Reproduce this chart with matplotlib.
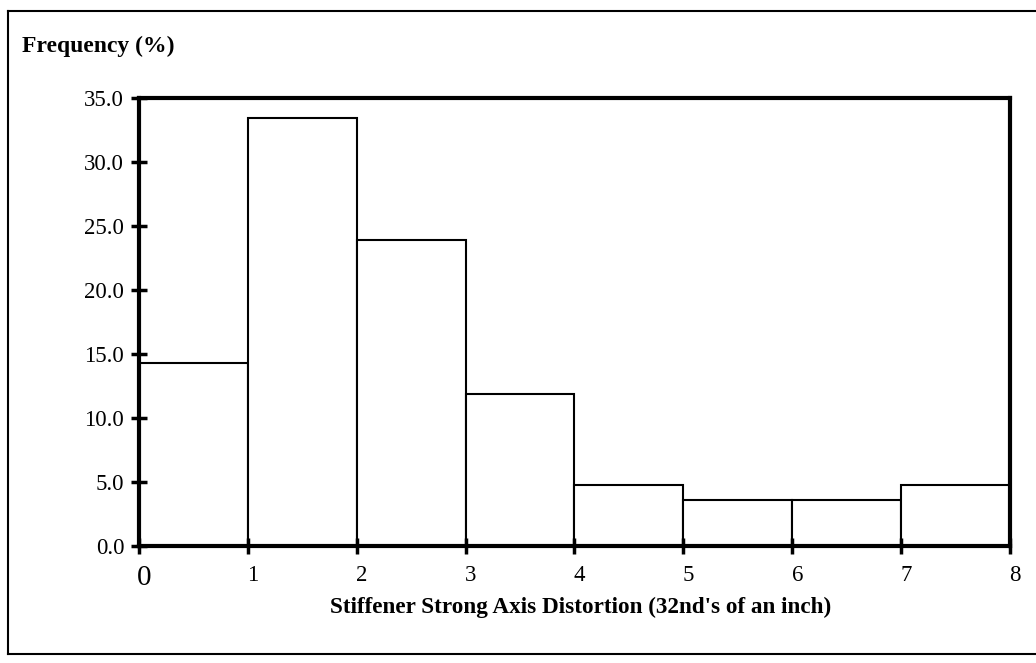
import matplotlib.pyplot as plt
import matplotlib.transforms as mtransforms
from matplotlib.lines import Line2D

# stiffener strong axis distortion histogram (32nd's of an inch)
binEdges = [0, 1, 2, 3, 4, 5, 6, 7, 8]
frequency = [14.3, 33.4, 23.9, 11.9, 4.8, 3.6, 3.6, 4.8]
yTicks = [0, 5, 10, 15, 20, 25, 30, 35]
yTickLabels = ["0.0", "5.0", "10.0", "15.0", "20.0", "25.0", "30.0", "35.0"]
xTickLabels = ["0", "1", "2", "3", "4", "5", "6", "7", "8"]

plt.rcParams['font.family'] = ['Liberation Serif', 'DejaVu Serif']

fig = plt.figure(figsize=(10.36, 6.63), dpi=100)
ax = fig.add_axes([0.134, 0.1765, 0.841, 0.676])

ax.bar(binEdges[:-1], frequency, width=1, align='edge',
       color='white', edgecolor='black', linewidth=1.5)

ax.set_xlim(binEdges[0], binEdges[-1])
ax.set_ylim(0, 35)
ax.set_yticks(yTicks, labels=yTickLabels)
ax.set_xticks(binEdges, labels=xTickLabels)

for side in ['left', 'bottom', 'top', 'right']:
    ax.spines[side].set_linewidth(3)

ax.tick_params(axis='y', direction='inout', length=11, width=2.5, labelsize=16.5, pad=5)
ax.tick_params(axis='x', direction='inout', length=11, width=2.5, labelsize=16.5, pad=8)

# first x label is printed larger in the original
ax.get_xticklabels()[0].set_fontsize(21)
shift = mtransforms.ScaledTranslation(0.05, 0, fig.dpi_scale_trans)
for lbl in ax.get_xticklabels():
    lbl.set_transform(lbl.get_transform() + shift)

fig.text(22 / 1036, 1 - 46 / 663, "Frequency (%)", fontsize=17, fontweight='bold',
         ha='left', va='center')
fig.text(581 / 1036, 1 - 607 / 663, "Stiffener Strong Axis Distortion (32nd's of an inch)",
         fontsize=16.7, fontweight='bold', ha='center', va='center')

# outer frame (right side runs off the page)
fx = 8 / 1036
fyTop = 1 - 11 / 663
fyBot = 1 - 654 / 663
fig.add_artist(Line2D([fx, fx], [fyBot, fyTop], transform=fig.transFigure, color='black', lw=1.5))
fig.add_artist(Line2D([fx, 1], [fyTop, fyTop], transform=fig.transFigure, color='black', lw=1.5))
fig.add_artist(Line2D([fx, 1], [fyBot, fyBot], transform=fig.transFigure, color='black', lw=1.5))

fig.savefig("out.png", dpi=100)
